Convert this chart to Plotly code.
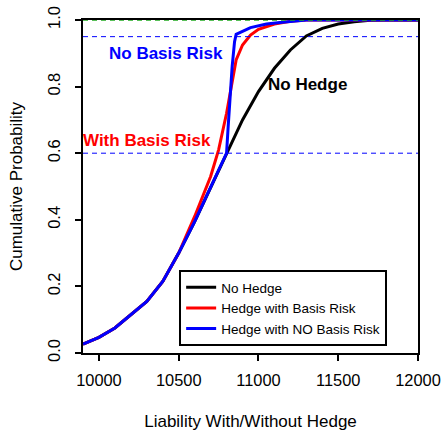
import plotly.graph_objects as go

# ---- data ----
x_nohedge = [9900, 10000, 10100, 10200, 10300, 10400, 10500, 10600, 10700, 10800,
             10900, 11000, 11100, 11200, 11300, 11400, 11500, 11600, 11700, 11800, 12000]
p_nohedge = [0.027, 0.047, 0.075, 0.115, 0.155, 0.215, 0.30, 0.395, 0.495, 0.60,
             0.70, 0.785, 0.855, 0.91, 0.952, 0.975, 0.988, 0.995, 0.999, 1.0, 1.0]

x_basis = [9900, 10000, 10100, 10200, 10300, 10400, 10500, 10600, 10700, 10750,
           10800, 10830, 10860, 10900, 10950, 11000, 11100, 11200, 11300, 12000]
p_basis = [0.027, 0.047, 0.075, 0.115, 0.155, 0.215, 0.30, 0.41, 0.53, 0.61,
           0.72, 0.80, 0.88, 0.925, 0.955, 0.972, 0.988, 0.996, 1.0, 1.0]

x_nobasis = [9900, 10000, 10100, 10200, 10300, 10400, 10500, 10600, 10700, 10800,
             10810, 10820, 10835, 10850, 10860, 10950, 11050, 11150, 11300, 12000]
p_nobasis = [0.027, 0.047, 0.075, 0.115, 0.155, 0.215, 0.30, 0.395, 0.495, 0.60,
             0.68, 0.76, 0.86, 0.935, 0.957, 0.977, 0.988, 0.993, 1.0, 1.0]

ref_levels_blue = [0.95, 0.6]
ref_level_green = 1.0

x_ticks = [10000, 10500, 11000, 11500, 12000]
y_ticks = [0.0, 0.2, 0.4, 0.6, 0.8, 1.0]

series_names = ["No Hedge", "Hedge with Basis Risk", "Hedge with NO Basis Risk"]
series_colors = ["black", "red", "blue"]

labels = [("No Basis Risk", 10423, 0.90, "blue"),
          ("No Hedge", 11309, 0.807, "black"),
          ("With Basis Risk", 10299, 0.637, "red")]

FONT = "Liberation Sans, Arial, sans-serif"

fig = go.Figure()
for xs, ps, name, col in zip([x_nohedge, x_basis, x_nobasis],
                             [p_nohedge, p_basis, p_nobasis],
                             series_names, series_colors):
    fig.add_trace(go.Scatter(x=xs, y=ps, mode="lines", name=name,
                             line=dict(color=col, width=3)))

for lv in ref_levels_blue:
    fig.add_shape(type="line", xref="paper", yref="y", x0=0, x1=1, y0=lv, y1=lv,
                  line=dict(color="blue", width=1, dash="5px,4px"), layer="above")
fig.add_shape(type="line", xref="paper", yref="y", x0=0, x1=1,
              y0=ref_level_green, y1=ref_level_green,
              line=dict(color="#22aa22", width=1.5, dash="5px,4px"), layer="above")

for txt, xv, yv, col in labels:
    fig.add_annotation(x=xv, y=yv, text="<b>%s</b>" % txt, showarrow=False,
                       font=dict(family=FONT, size=17, color=col))

fig.update_layout(
    width=442, height=431,
    margin=dict(l=83, r=24, t=20, b=78, autoexpand=False),
    paper_bgcolor="white", plot_bgcolor="white",
    font=dict(family=FONT, color="black"),
    showlegend=True,
    legend=dict(x=0.287, y=0.249, xanchor="left", yanchor="top",
                bordercolor="black", borderwidth=2, bgcolor="white",
                font=dict(family=FONT, size=13.5), tracegroupgap=0,
                itemwidth=30),
    xaxis=dict(range=[9900, 12000], tickvals=x_ticks, ticktext=[str(v) for v in x_ticks],
               automargin=False, ticklabelstandoff=5,
               showgrid=False, zeroline=False, showline=True, mirror=True,
               linecolor="black", linewidth=2, ticks="outside", ticklen=6,
               tickwidth=1.5, tickcolor="black", tickfont=dict(size=16.4),
               title=dict(text="Liability With/Without Hedge", font=dict(size=17),
                          standoff=28)),
    yaxis=dict(range=[0, 1], tickvals=y_ticks, ticktext=["%.1f" % v for v in y_ticks],
               automargin=False, ticklabelstandoff=8,
               showgrid=False, zeroline=False, showline=True, mirror=True,
               linecolor="black", linewidth=2, ticks="outside", ticklen=6,
               tickwidth=1.5, tickcolor="black", tickfont=dict(size=16.4),
               tickangle=-90,
               title=dict(text="Cumulative Probability", font=dict(size=17),
                          standoff=18)),
)

fig.write_html("out.html")
